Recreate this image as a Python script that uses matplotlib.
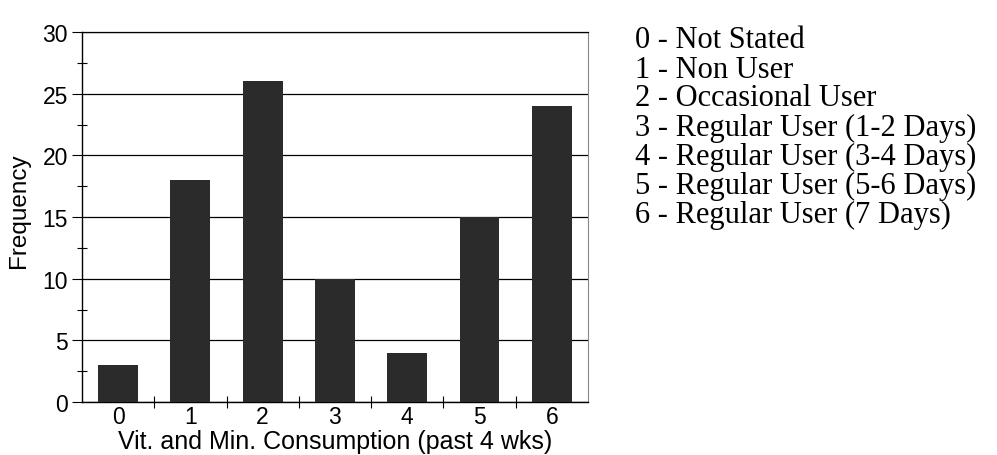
import matplotlib
matplotlib.use("Agg")
import matplotlib.pyplot as plt
import numpy as np

# data
categories = ["0", "1", "2", "3", "4", "5", "6"]
frequency = [3, 18, 26, 10, 4, 15, 24]
legend_lines = [
    "0 - Not Stated",
    "1 - Non User",
    "2 - Occasional User",
    "3 - Regular User (1-2 Days)",
    "4 - Regular User (3-4 Days)",
    "5 - Regular User (5-6 Days)",
    "6 - Regular User (7 Days)",
]

plt.rcParams["font.family"] = ["Liberation Sans", "DejaVu Sans"]

fig = plt.figure(figsize=(9.97, 4.56), dpi=100)
ax = fig.add_axes([0.0822, 0.1162, 0.5075, 0.8114])

x = np.arange(len(categories))
ax.bar(x, frequency, width=0.55, color="#2b2b2b", zorder=3)

ax.set_xlim(-0.5, 6.5)
ax.set_ylim(0, 30)

# gridlines at the major y ticks
ax.set_yticks(np.arange(0, 31, 5))
ax.set_yticks(np.arange(0, 30.1, 2.5), minor=True)
ax.yaxis.grid(True, which="major", color="black", linewidth=0.9, zorder=1)

ax.set_xticks(x)
ax.set_xticklabels(categories)
ax.set_xticks(np.arange(0.5, 6.5, 1), minor=True)
ax.tick_params(axis="x", which="major", length=0, labelsize=16.5, pad=2)
ax.tick_params(axis="x", which="minor", direction="inout", length=9, width=0.8)
ax.tick_params(axis="y", which="major", direction="out", length=7, width=0.8,
               labelsize=16.5, pad=3)
ax.tick_params(axis="y", which="minor", direction="inout", length=7, width=0.8)

for side in ["left", "bottom"]:
    ax.spines[side].set_linewidth(1.0)
    ax.spines[side].set_color("black")
ax.spines["top"].set_linewidth(0.9)
ax.spines["right"].set_color("#888888")
ax.spines["right"].set_linewidth(0.8)

ax.set_xlabel("Vit. and Min. Consumption (past 4 wks)", fontsize=18, labelpad=1)
ax.set_ylabel("Frequency", fontsize=17.5)
ax.yaxis.set_label_coords(-0.103, 0.52)

# category key on the right
for i, line in enumerate(legend_lines):
    fig.text(0.637, 1 - (41 + i * 29) / 456, line, fontsize=22,
             family=["Liberation Serif", "DejaVu Serif"], va="center", ha="left")

fig.savefig("out.png", dpi=100)
